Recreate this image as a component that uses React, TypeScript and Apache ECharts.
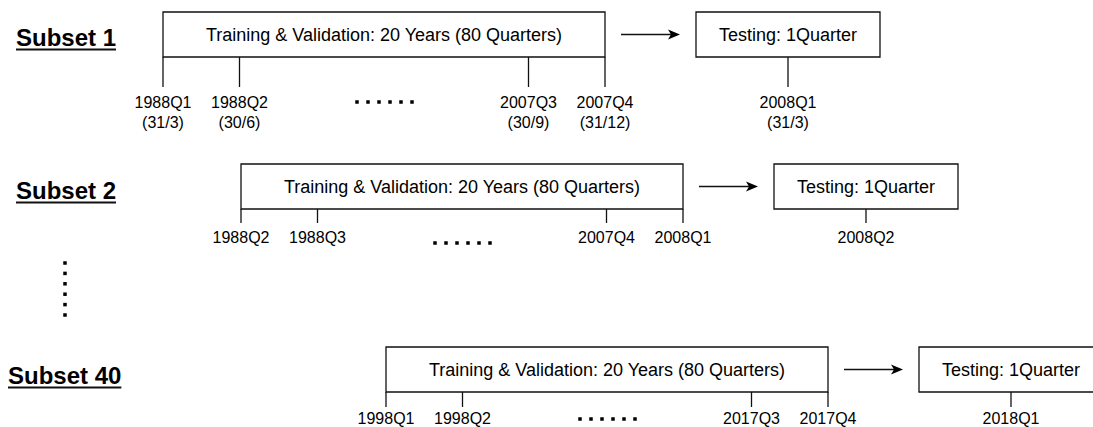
import React, { useEffect, useRef } from "react";
import * as echarts from "echarts";

// ---------- data ----------
const subsetNames = ["Subset 1", "Subset 2", "Subset 40"];
const trainingText = "Training & Validation: 20 Years (80 Quarters)";
const testingText = "Testing: 1Quarter";
const firstQuarters = [
  ["1988Q1", "1988Q2"],
  ["1988Q2", "1988Q3"],
  ["1998Q1", "1998Q2"],
];
const lastQuarters = [
  ["2007Q3", "2007Q4"],
  ["2007Q4", "2008Q1"],
  ["2017Q3", "2017Q4"],
];
const testQuarters = ["2008Q1", "2008Q2", "2018Q1"];
// quarter-end dates, shown for the first subset only
const firstDates = [["(31/3)", "(30/6)"], null, null];
const lastDates = [["(30/9)", "(31/12)"], null, null];
const testDates = ["(31/3)", null, null];

// ---------- layout ----------
const W = 1093;
const H = 427;
const FONT = "'Liberation Sans', Arial, Helvetica, sans-serif";
const rowTop = [12, 164, 347];
const boxH = 45;
const trainLeft = [163, 241, 386];
const trainW = 442;
const qStep = 76.5;
const tickLen = [30, 14, 15];
const labelY = [102, 237, 418];
const dateGap = 20;
const nameX = [16, 16, 8];
const nameY = [37, 190, 375];
const dotsY = [102, 243, 419];
const dotsOffset = 194;
const dotPitch = 11;
const dotCount = 6;
const arrowGap = 16;
const arrowLen = 59;
const testLeftGap = 91;
const testW = 184;
const vDotsX = 65;
const vDotsY0 = 263;
const vDotPitch = 10.4;
const LINE = "#111";
const LW = 1.3;
const LABEL_SIZE = 16;

function measure(text: string, font: string): number {
  const cv = document.createElement("canvas");
  const ctx = cv.getContext("2d");
  if (!ctx) return text.length * 12;
  ctx.font = font;
  return ctx.measureText(text).width;
}

export default function App() {
  const ref = useRef<HTMLDivElement>(null);

  useEffect(() => {
    document.body.style.margin = "0";
    if (!ref.current) return;
    const chart = echarts.init(ref.current, undefined, { renderer: "svg" });

    const nameFont = `bold 24px ${FONT}`;
    const nameWidths = subsetNames.map((n) => measure(n, nameFont));

    const renderRow = (params: any, api: any) => {
      const r = params.dataIndex;
      const c = (x: number, y: number) => api.coord([x, y]);
      const children: any[] = [];
      const top = rowTop[r];
      const bottom = top + boxH;
      const midY = top + boxH / 2;

      const rect = (x: number, w: number) => {
        const p0 = c(x, top);
        const p1 = c(x + w, bottom);
        return {
          type: "rect",
          shape: { x: p0[0], y: p0[1], width: p1[0] - p0[0], height: p1[1] - p0[1] },
          style: { fill: "#fff", stroke: LINE, lineWidth: LW },
        };
      };
      const line = (x1: number, y1: number, x2: number, y2: number, lw = LW) => {
        const a = c(x1, y1);
        const b = c(x2, y2);
        return {
          type: "line",
          shape: { x1: a[0], y1: a[1], x2: b[0], y2: b[1] },
          style: { stroke: LINE, lineWidth: lw },
        };
      };
      const text = (t: string, x: number, y: number, size: number, weight = "normal", align = "center") => {
        const p = c(x, y);
        return {
          type: "text",
          x: p[0],
          y: p[1],
          style: {
            text: t,
            fill: "#000",
            fontSize: size,
            fontFamily: FONT,
            fontWeight: weight,
            align,
            verticalAlign: "middle",
          },
        };
      };
      const dot = (x: number, y: number) => {
        const p = c(x - 1.75, y - 1.75);
        return {
          type: "rect",
          shape: { x: p[0], y: p[1], width: 3.5, height: 3.5 },
          style: { fill: "#000" },
        };
      };

      // subset name with underline
      children.push(text(subsetNames[r], nameX[r], nameY[r], 24, "bold", "left"));
      children.push(line(nameX[r], nameY[r] + 12.5, nameX[r] + nameWidths[r], nameY[r] + 12.5, 2));

      // training box
      const tl = trainLeft[r];
      const tr = tl + trainW;
      children.push(rect(tl, trainW));
      children.push(text(trainingText, (tl + tr) / 2, midY, 18));

      // ticks & labels
      const tickEnd = bottom + tickLen[r];
      const ticks = [
        { x: tl, q: firstQuarters[r][0], d: firstDates[r] ? firstDates[r]![0] : null },
        { x: tl + qStep, q: firstQuarters[r][1], d: firstDates[r] ? firstDates[r]![1] : null },
        { x: tr - qStep, q: lastQuarters[r][0], d: lastDates[r] ? lastDates[r]![0] : null },
        { x: tr, q: lastQuarters[r][1], d: lastDates[r] ? lastDates[r]![1] : null },
      ];
      // test box
      const sl = tr + testLeftGap;
      const sc = sl + testW / 2;
      ticks.push({ x: sc, q: testQuarters[r], d: testDates[r] });

      ticks.forEach((t) => {
        children.push(line(t.x, bottom, t.x, tickEnd));
        children.push(text(t.q, t.x, labelY[r], LABEL_SIZE));
        if (t.d) children.push(text(t.d, t.x, labelY[r] + dateGap, LABEL_SIZE));
      });

      // horizontal ellipsis
      for (let i = 0; i < dotCount; i++) children.push(dot(tl + dotsOffset + i * dotPitch, dotsY[r]));

      // arrow
      const ax1 = tr + arrowGap;
      const ax2 = ax1 + arrowLen;
      children.push(line(ax1, midY, ax2 - 8, midY));
      const h0 = c(ax2 - 12, midY - 5);
      const h1 = c(ax2, midY);
      const h2 = c(ax2 - 12, midY + 5);
      const h3 = c(ax2 - 9, midY);
      children.push({
        type: "polygon",
        shape: { points: [h0, h1, h2, h3] },
        style: { fill: "#000" },
      });

      // testing box
      children.push(rect(sl, testW));
      children.push(text(testingText, sc, midY, 18));

      // vertical ellipsis after subset 2
      if (r === 1) {
        for (let i = 0; i < dotCount; i++) children.push(dot(vDotsX, vDotsY0 + i * vDotPitch));
      }

      return { type: "group", children };
    };

    chart.setOption({
      animation: false,
      grid: { left: 0, right: 0, top: 0, bottom: 0 },
      xAxis: { type: "value", min: 0, max: W, show: false },
      yAxis: { type: "value", min: 0, max: H, inverse: true, show: false },
      series: [
        {
          type: "custom",
          silent: true,
          clip: false,
          renderItem: renderRow,
          data: subsetNames.map((_, i) => [i]),
        },
      ],
    });

    return () => chart.dispose();
  }, []);

  return <div ref={ref} style={{ width: W, height: H, background: "#fff" }} />;
}
